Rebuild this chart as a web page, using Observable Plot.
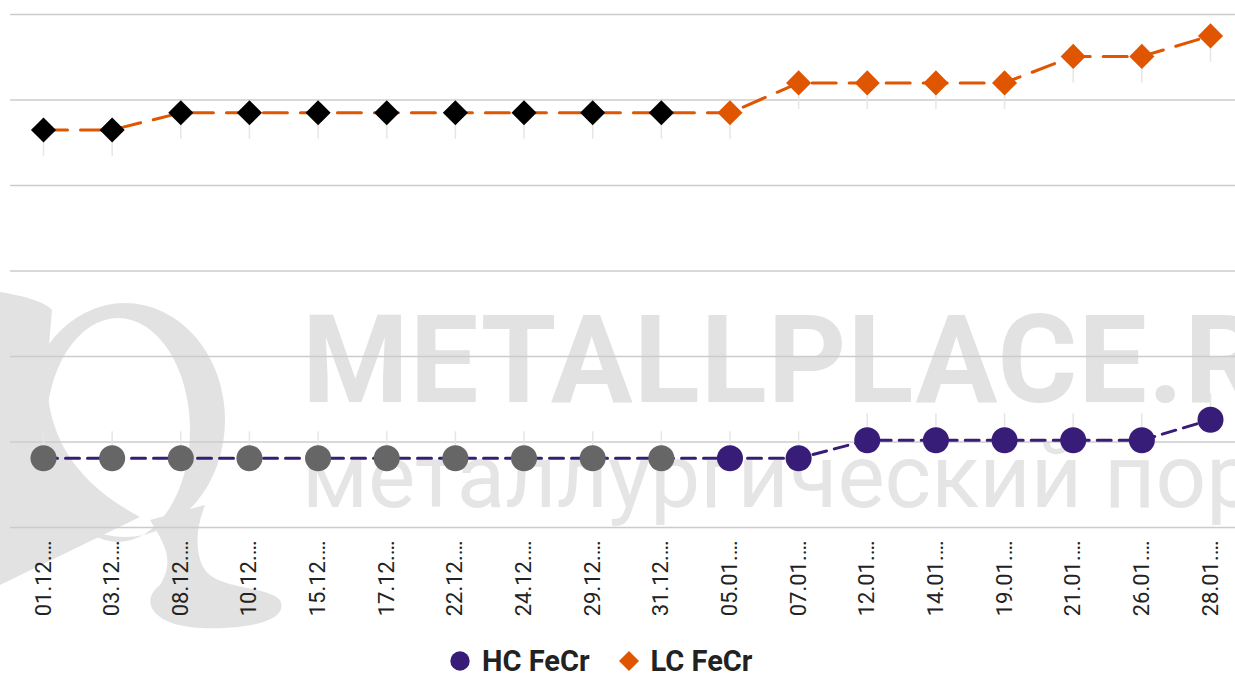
<!DOCTYPE html>
<html>
<head>
<meta charset="utf-8">
<script src="https://cdn.jsdelivr.net/npm/d3@7"></script>
<script src="https://cdn.jsdelivr.net/npm/@observablehq/plot@0.6"></script>
<style>
  html, body { margin: 0; padding: 0; background: #fff; }
  body { width: 1235px; height: 673px; position: relative; overflow: hidden; font-family: Roboto, sans-serif; }
  #wm { position: absolute; left: 0; top: 0; width: 1235px; height: 673px; z-index: 0; pointer-events: none; overflow: hidden; }
  #wm .l1 { position: absolute; left: 302px; top: 300px; font: bold 122px Roboto, sans-serif; color: #e2e2e2; white-space: nowrap; letter-spacing: 1px; line-height: 1; }
  #wm .l2 { position: absolute; left: 302px; top: 432px; font: 89px Roboto, sans-serif; color: #e5e5e5; white-space: nowrap; line-height: 1; }
  #chart { position: absolute; left: 0; top: 0; z-index: 1; }
  #legend { position: absolute; left: 450px; top: 644px; z-index: 2; display: flex; align-items: center; font: bold 29px Roboto, sans-serif; color: #222; white-space: nowrap; }
  #legend .item { display: flex; align-items: center; }
  #legend svg { margin-right: 12px; }
</style>
</head>
<body>
<div id="wm">
  <svg width="320" height="673" style="position:absolute;left:0;top:0">
    <path d="M25,420 A100,117 0 1 1 225,420 A100,117 0 1 1 25,420 Z M46,430 A72,112 0 1 0 190,430 A72,112 0 1 0 46,430 Z" fill="#e2e2e2" fill-rule="evenodd"/>
    <path d="M0,292 C25,296 45,302 52,310 L47,370 C45,430 70,480 140,517 L0,585 Z" fill="#e2e2e2"/>
    <path d="M150,520 C165,545 175,560 160,585 C140,600 150,625 200,628 C250,630 290,620 280,600 C265,585 220,590 205,570 C195,555 195,530 205,505 Z" fill="#e2e2e2"/>
  </svg>
  <div class="l1">METALLPLACE.RU</div>
  <div class="l2">металлургический портал</div>
</div>
<div id="chart"></div>
<div id="legend"></div>
<script>
// Data
const dates = ["01.12","03.12","08.12","10.12","15.12","17.12","22.12","24.12","29.12","31.12","05.01","07.01","12.01","14.01","19.01","21.01","26.01","28.01"];
const hcValues = [0.81,0.81,0.81,0.81,0.81,0.81,0.81,0.81,0.81,0.81,0.81,0.81,1.02,1.02,1.02,1.02,1.02,1.26];
const lcValues = [4.65,4.65,4.85,4.85,4.85,4.85,4.85,4.85,4.85,4.85,4.85,5.2,5.2,5.2,5.2,5.51,5.51,5.75];
const gridTicks = [0,1,2,3,4,5,6];
const seriesNames = ["HC FeCr","LC FeCr"];
const seriesColors = ["#371c78","#e05500"];
const highlightColors = ["#666666","#000000"];

const data = dates.map((d, i) => ({date: d, hc: hcValues[i], lc: lcValues[i], dec: d.endsWith(".12")}));

const chart = Plot.plot({
  width: 1235,
  height: 632,
  marginLeft: 10,
  marginRight: 0,
  marginTop: 14,
  marginBottom: 105,
  style: {background: "transparent", fontFamily: "Roboto, sans-serif", fontSize: "22px", color: "#222", overflow: "visible"},
  x: {type: "point", domain: dates, range: [43, 1210], padding: 0, round: false},
  y: {domain: [0, 6], axis: null},
  color: {type: "identity"},
  marks: [
    Plot.ruleY(gridTicks, {stroke: "#cccccc", strokeWidth: 1.3}),
    Plot.axisX({label: null, tickFormat: d => d + ".…", tickRotate: -90, tickSize: 0, tickPadding: 13, fontSize: 22, fill: "#222"}),
    Plot.ruleX(data, {x: "date", y1: "lc", y2: d => d.lc - 0.31, stroke: "#e6e6e6", strokeWidth: 1.5}),
    Plot.ruleX(data, {x: "date", y1: "hc", y2: d => d.hc + 0.31, stroke: "#e6e6e6", strokeWidth: 1.5}),
    Plot.line(data, {x: "date", y: "lc", stroke: seriesColors[1], strokeWidth: 3, strokeDasharray: "24,13"}),
    Plot.line(data, {x: "date", y: "hc", stroke: seriesColors[0], strokeWidth: 3, strokeDasharray: "14,8"}),
    Plot.dot(data, {x: "date", y: "lc", symbol: "diamond2", r: 11.3, fill: d => d.dec ? highlightColors[1] : seriesColors[1], stroke: null}),
    Plot.dot(data, {x: "date", y: "hc", r: 13, fill: d => d.dec ? highlightColors[0] : seriesColors[0], stroke: null})
  ]
});
document.getElementById("chart").appendChild(chart);

// Legend
const legend = document.getElementById("legend");
seriesNames.forEach((name, i) => {
  const item = document.createElement("div");
  item.className = "item";
  if (i > 0) item.style.marginLeft = "29px";
  const glyph = i === 0
    ? `<svg width="20" height="20"><circle cx="10" cy="10" r="9.7" fill="${seriesColors[i]}"/></svg>`
    : `<svg width="20" height="20"><path d="M10,0L20,10L10,20L0,10Z" fill="${seriesColors[i]}"/></svg>`;
  item.innerHTML = glyph + `<span>${name}</span>`;
  legend.appendChild(item);
});
</script>
</body>
</html>
